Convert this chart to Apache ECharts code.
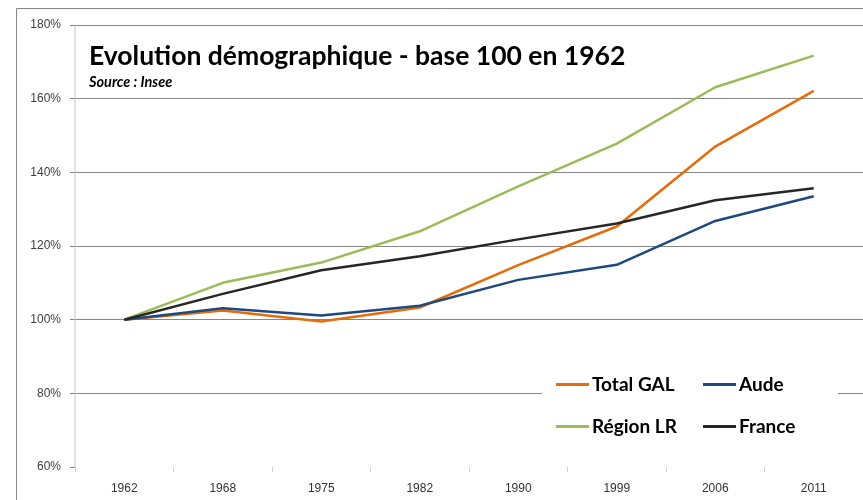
<!DOCTYPE html>
<html>
<head>
<meta charset="utf-8">
<script src="https://cdn.jsdelivr.net/npm/echarts@6/dist/echarts.min.js"></script>
<style>html,body{margin:0;padding:0;background:#fff;}#c{width:863px;height:500px;}</style>
</head>
<body>
<div id="c"></div>
<script>
var years = ['1962','1968','1975','1982','1990','1999','2006','2011'];
var totalGAL = [100, 102.5, 99.5, 103.3, 114.8, 125.3, 147, 162.1];
var aude = [100, 103.1, 101.1, 103.8, 110.8, 114.9, 126.8, 133.5];
var regionLR = [100, 110, 115.5, 124, 136.2, 147.8, 163.1, 171.7];
var france = [100, 107, 113.4, 117.2, 121.8, 126.1, 132.4, 135.7];
var yTicks = {min: 60, max: 180, step: 20};

var chart = echarts.init(document.getElementById('c'), null, {renderer: 'canvas'});
var lineW = 2.5;
function s(name, data, color) {
  return {name: name, type: 'line', data: data, symbol: 'none', z: 2,
    lineStyle: {color: color, width: lineW}, itemStyle: {color: color}};
}
chart.setOption({
  animation: false,
  backgroundColor: '#fff',
  grid: {left: 75, top: 25, width: 790, height: 442},
  title: {
    text: 'Evolution démographique - base 100 en 1962',
    subtext: 'Source : Insee',
    left: 84, top: 38, itemGap: 5,
    textStyle: {fontFamily: 'Lato', fontWeight: 'bold', fontSize: 26.5, color: '#000'},
    subtextStyle: {fontFamily: 'Lato', fontWeight: 'bold', fontStyle: 'italic', fontSize: 14.5, color: '#000'}
  },
  graphic: [
    {type: 'rect', z: -1, silent: true, shape: {x: 16.5, y: 8.5, width: 900, height: 600},
      style: {fill: 'none', stroke: '#868686', lineWidth: 1}},
    {type: 'rect', z: 3, silent: true, shape: {x: 542, y: 362, width: 296, height: 86},
      style: {fill: '#fff'}}
  ],
  legend: [
    {data: ['Total GAL', 'Région LR'], orient: 'vertical', left: 551, top: 370, itemGap: 23,
      icon: 'rect', itemWidth: 33, itemHeight: 3, itemGap: 23, z: 5,
      textStyle: {fontFamily: 'Lato', fontWeight: 'bold', fontSize: 19, color: '#000', padding: [0, 0, 0, -2]}},
    {data: ['Aude', 'France'], orient: 'vertical', left: 698, top: 370, itemGap: 23,
      icon: 'rect', itemWidth: 33, itemHeight: 3, z: 5,
      textStyle: {fontFamily: 'Lato', fontWeight: 'bold', fontSize: 19, color: '#000', padding: [0, 0, 0, -2]}}
  ],
  xAxis: {
    type: 'category', data: years, boundaryGap: true,
    axisLine: {show: false},
    axisTick: {show: true, length: 5, lineStyle: {color: '#d0d0d0'}},
    axisLabel: {margin: 16, fontFamily: 'Liberation Sans Narrow, Liberation Sans', fontSize: 12, color: '#333'},
    splitLine: {show: false}
  },
  yAxis: {
    type: 'value', min: yTicks.min, max: yTicks.max, interval: yTicks.step,
    axisLine: {show: true, lineStyle: {color: '#d9d9d9', width: 1.5}},
    axisTick: {show: true, length: 5, lineStyle: {color: '#868686'}},
    axisLabel: {formatter: '{value}%', margin: 14, fontFamily: 'Liberation Sans', fontSize: 12, color: '#404040'},
    splitLine: {show: true, showMinLine: false, lineStyle: {color: '#868686', width: 1}}
  },
  series: [
    s('Total GAL', totalGAL, '#E46C0A'),
    s('Aude', aude, '#1F497D'),
    s('Région LR', regionLR, '#9BBB59'),
    s('France', france, '#262626')
  ]
});
</script>
</body>
</html>
